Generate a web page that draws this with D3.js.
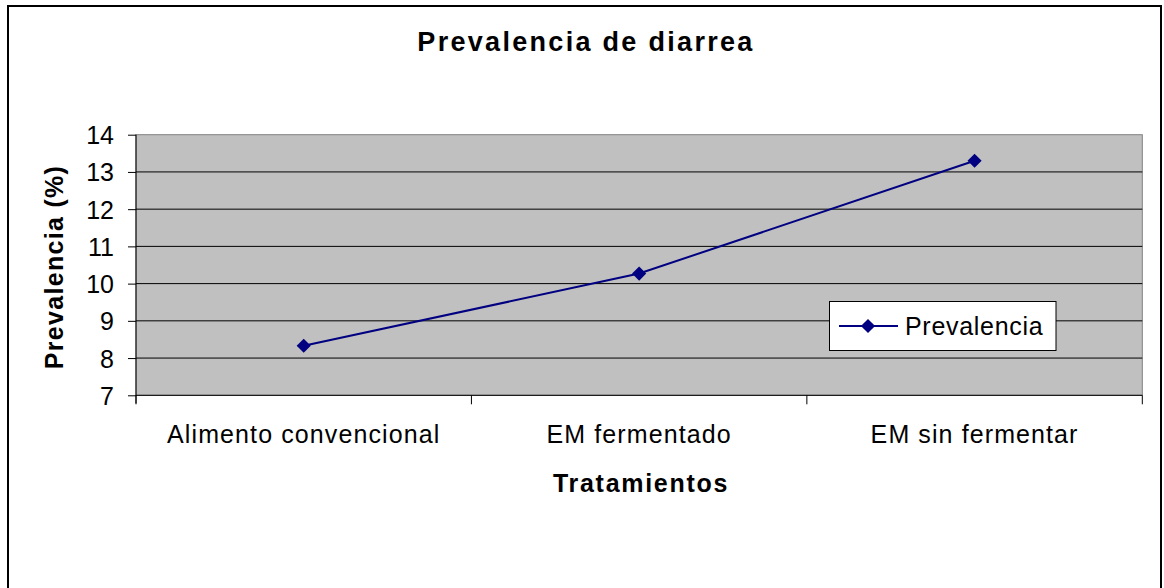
<!DOCTYPE html>
<html><head><meta charset="utf-8">
<script src="https://cdn.jsdelivr.net/npm/d3@7"></script>
<style>body{margin:0;background:#fff;}svg{display:block;font-family:"Liberation Sans",Arial,sans-serif;}</style>
</head><body>
<svg id="c" width="1164" height="588"></svg>
<script>
const categories = ["Alimento convencional", "EM fermentado", "EM sin fermentar"];
const seriesName = "Prevalencia";
const values = [8.33, 10.27, 13.3];
const yTicks = [7, 8, 9, 10, 11, 12, 13, 14];
const title = "Prevalencia de diarrea";
const xTitle = "Tratamientos";
const yTitle = "Prevalencia (%)";

const svg = d3.select("#c");
const L = 136, R = 1142.3, T = 134.7, B = 395.3;
const x = d3.scaleBand().domain(categories).range([L, R]).padding(0);
const y = d3.scaleLinear().domain([7, 14]).range([B, T]);
const navy = "#000080";

// outer border
svg.append("rect").attr("x", 8).attr("y", 6).attr("width", 1153).attr("height", 600)
  .attr("fill", "#fff").attr("stroke", "#000").attr("stroke-width", 2);

// plot area
svg.append("rect").attr("x", L).attr("y", T).attr("width", R - L).attr("height", B - T)
  .attr("fill", "#C0C0C0").attr("stroke", "#808080").attr("stroke-width", 1);

// gridlines
svg.append("g").selectAll("line").data(yTicks.filter(d => d > 7 && d < 14)).join("line")
  .attr("x1", L).attr("x2", R).attr("y1", d => y(d)).attr("y2", d => y(d))
  .attr("stroke", "#000").attr("stroke-width", 1);

// y axis
const yAxis = d3.axisLeft(y).tickValues(yTicks).tickSize(8).tickPadding(14).tickFormat(d3.format("d"));
const gy = svg.append("g").attr("transform", `translate(${L},0)`).call(yAxis);
gy.select(".domain").attr("d", `M0,${T}V${B + 8}`).attr("stroke", "#000");
gy.selectAll(".tick line").attr("stroke", "#000");
gy.selectAll(".tick text").attr("font-size", 25).attr("fill", "#000")
  .attr("font-family", "Liberation Sans, Arial, sans-serif").attr("dy", "0.36em");

// x axis
const gx = svg.append("g").attr("transform", `translate(0,${B})`);
gx.append("line").attr("x1", L).attr("x2", R).attr("stroke", "#000");
const bounds = [...categories.map(c => x(c)), R];
gx.selectAll("line.t").data(bounds).join("line").attr("class", "t")
  .attr("x1", d => d).attr("x2", d => d).attr("y1", 0).attr("y2", 9).attr("stroke", "#000");
gx.selectAll("text").data(categories).join("text")
  .attr("x", d => x(d) + x.bandwidth() / 2).attr("y", 48)
  .attr("text-anchor", "middle").attr("font-size", 25).attr("letter-spacing", 1.1)
  .text(d => d);

// line
const line = d3.line().x((d, i) => x(categories[i]) + x.bandwidth() / 2).y(d => y(d));
svg.append("path").datum(values).attr("d", line).attr("fill", "none")
  .attr("stroke", navy).attr("stroke-width", 2);
svg.append("g").selectAll("path").data(values).join("path")
  .attr("transform", (d, i) => `translate(${x(categories[i]) + x.bandwidth() / 2},${y(d)}) rotate(45)`)
  .attr("d", d3.symbol().type(d3.symbolSquare).size(100)).attr("fill", navy);

// titles
svg.append("text").attr("x", 586).attr("y", 51).attr("text-anchor", "middle")
  .attr("font-size", 27).attr("font-weight", "bold").attr("letter-spacing", 2.3).text(title);
svg.append("text").attr("x", 641).attr("y", 492).attr("text-anchor", "middle")
  .attr("font-size", 25).attr("font-weight", "bold").attr("letter-spacing", 1.7).text(xTitle);
svg.append("text").attr("transform", "translate(63,267) rotate(-90)").attr("text-anchor", "middle")
  .attr("font-size", 25).attr("font-weight", "bold").attr("letter-spacing", 1.3).text(yTitle);

// legend
const lg = svg.append("g");
lg.append("rect").attr("x", 829.5).attr("y", 301.5).attr("width", 226.5).attr("height", 49)
  .attr("fill", "#fff").attr("stroke", "#000").attr("stroke-width", 1);
lg.append("line").attr("x1", 839).attr("x2", 898).attr("y1", 326).attr("y2", 326)
  .attr("stroke", navy).attr("stroke-width", 2);
lg.append("path").attr("transform", "translate(868,326) rotate(45)")
  .attr("d", d3.symbol().type(d3.symbolSquare).size(100)).attr("fill", navy);
lg.append("text").attr("x", 905).attr("y", 335).attr("font-size", 25).attr("letter-spacing", 0.7).text(seriesName);
</script>
</body></html>
